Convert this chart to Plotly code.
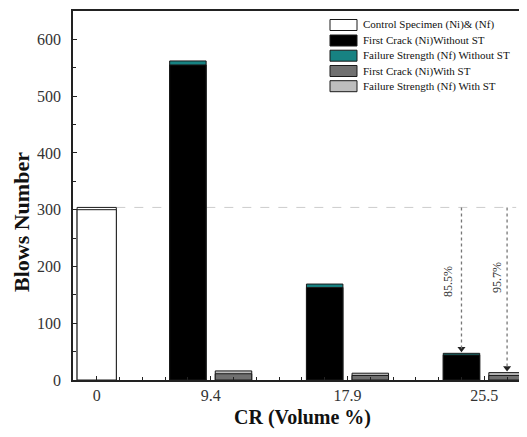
import plotly.graph_objects as go

# ---------------- data ----------------
categories = ["0", "9.4", "17.9", "25.5"]
control_ni = 300
control_nf = 304
ni_without_st = [555, 163, 44]
nf_without_st = [562, 169, 47]
ni_with_st = [11, 8, 8]
nf_with_st = [16, 12, 13]
reduction_labels = ["85.5%", "95.7%"]
y_tick_values = [0, 100, 200, 300, 400, 500, 600]

legend_names = [
    "Control Specimen (Ni)& (Nf)",
    "First Crack (Ni)Without ST",
    "Failure Strength (Nf) Without ST",
    "First Crack (Ni)With ST",
    "Failure Strength (Nf) With ST",
]

# ---------------- layout constants ----------------
# the page body has an 8px default margin, so the figure is drawn 8px in
OFF = 8
W, H = 527 - OFF, 437 - OFF
PL, PR, PT, PB = 73, 526, 11, 380  # plot box in reference pixels
SERIF = "Liberation Serif, Times New Roman, serif"
TEAL = "#178282"
DARK_GRAY = "#707070"
LIGHT_GRAY = "#bdbdbd"
EDGE = "#1a1a1a"

label_pos = [0, 5, 11, 17]
without_pos = [p - 1 for p in label_pos[1:]]
with_pos = [p + 1 for p in label_pos[1:]]
BW = 1.6
CBW = 1.72


def px_x(px):
    return (px - PL) / (PR - PL)


def px_y(py):
    return (PB - py) / (PB - PT)


fig = go.Figure()


def bar(x, y, color, name, width):
    fig.add_trace(go.Bar(
        x=x, y=y, name=name, width=width,
        marker=dict(color=color, line=dict(color=EDGE, width=1)),
        showlegend=False,
    ))


bar([label_pos[0]], [control_nf], "white", legend_names[0], CBW)
bar([label_pos[0]], [control_ni], "white", legend_names[0], CBW)
bar(without_pos, nf_without_st, TEAL, legend_names[2], BW)
bar(without_pos, ni_without_st, "black", legend_names[1], BW)
bar(with_pos, nf_with_st, LIGHT_GRAY, legend_names[4], BW)
bar(with_pos, ni_with_st, DARK_GRAY, legend_names[3], BW)

# dashed reference line at control level
fig.add_shape(type="line", xref="x", yref="y",
              x0=label_pos[0] + CBW / 2, x1=18.4, y0=control_nf, y1=control_nf,
              line=dict(color="#cccccc", width=1, dash="dash"), layer="below")

# dotted arrows
arrow_x = [without_pos[2], with_pos[2]]
arrow_top = [nf_without_st[2], nf_with_st[2]]
for ax_, top in zip(arrow_x, arrow_top):
    fig.add_shape(type="line", xref="x", yref="y",
                  x0=ax_, x1=ax_, y0=control_nf, y1=top + 8,
                  line=dict(color="#777777", width=1.3, dash="dot"))
fig.add_trace(go.Scatter(
    x=arrow_x, y=[t + 8 for t in arrow_top], mode="markers",
    marker=dict(symbol="triangle-down", size=7, color="#222222"),
    showlegend=False, hoverinfo="skip",
))

for ax_, lab, yv in zip([15.4, 17.55], reduction_labels, [174, 181]):
    fig.add_annotation(x=ax_, y=yv, xref="x", yref="y", text=lab,
                       textangle=-90, showarrow=False,
                       xanchor="center", yanchor="middle",
                       font=dict(family=SERIF, size=12, color="#333333"))

# manual legend
legend_fills = ["white", "black", TEAL, DARK_GRAY, LIGHT_GRAY]
row_centers = [25, 40.5, 55.7, 71, 86.2]
for fill, name, yc in zip(legend_fills, legend_names, row_centers):
    fig.add_shape(type="rect", xref="paper", yref="paper",
                  x0=px_x(330), x1=px_x(357), y0=px_y(yc + 5.5), y1=px_y(yc - 5.5),
                  fillcolor=fill, line=dict(color=EDGE, width=1))
    fig.add_annotation(x=px_x(361), y=px_y(yc), xref="paper", yref="paper",
                       text=name, showarrow=False, xanchor="left", yanchor="middle",
                       font=dict(family=SERIF, size=11, color="#111111"))

# axis titles
fig.add_annotation(x=px_x(21), y=px_y(222), xref="paper", yref="paper",
                   text="<b>Blows Number</b>", textangle=-90, showarrow=False,
                   xanchor="center", yanchor="middle",
                   font=dict(family=SERIF, size=22, color="#111111"))
fig.add_annotation(x=px_x(302), y=px_y(417), xref="paper", yref="paper",
                   text="<b>CR (Volume %)</b>", showarrow=False,
                   xanchor="center", yanchor="middle",
                   font=dict(family=SERIF, size=20, color="#111111"))

fig.update_layout(
    width=W, height=H,
    margin=dict(l=PL - OFF, r=W - (PR - OFF), t=PT - OFF, b=H - (PB - OFF), pad=0,
                autoexpand=False),
    barmode="overlay",
    plot_bgcolor="white", paper_bgcolor="white",
    showlegend=False,
    font=dict(family=SERIF, size=16, color="#333333"),
    xaxis=dict(
        range=[-1.04, 18.83],
        tickvals=label_pos, ticktext=categories,
        ticks="inside", ticklen=4, tickwidth=1.2, tickcolor="#222",
        minor=dict(dtick=1, tick0=0, ticks="inside", ticklen=3, tickcolor="#222", tickwidth=1),
        showline=True, linecolor="#222", linewidth=1.5, mirror=True,
        showgrid=False, zeroline=False, automargin=False,
        tickfont=dict(family=SERIF, size=16, color="#333333"),
    ),
    yaxis=dict(
        range=[0, 650],
        tickvals=y_tick_values,
        ticks="inside", ticklen=4, tickwidth=1.2, tickcolor="#222",
        minor=dict(dtick=50, tick0=0, ticks="inside", ticklen=3, tickcolor="#222", tickwidth=1),
        showline=True, linecolor="#222", linewidth=1.5, mirror=True,
        showgrid=False, zeroline=False, automargin=False,
        tickfont=dict(family=SERIF, size=16, color="#333333"),
        ticklabelstandoff=7,
    ),
)

fig.write_html("out.html")
